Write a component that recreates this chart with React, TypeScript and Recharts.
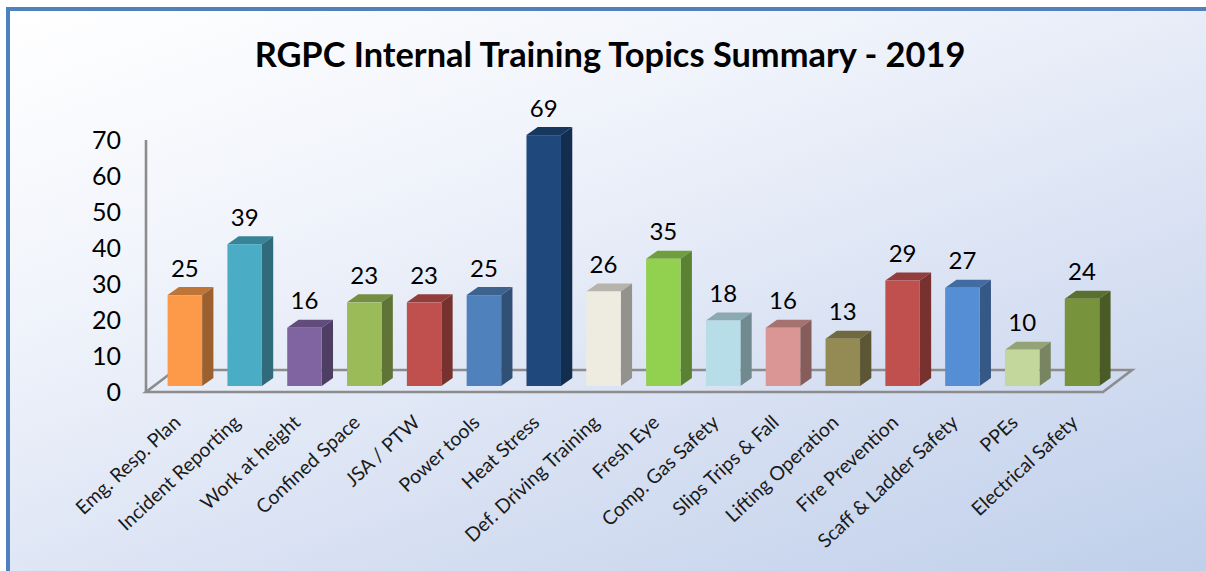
import { BarChart, Bar, XAxis, YAxis, CartesianGrid, LabelList } from "recharts";

const TOPICS = [
  "Emg. Resp. Plan",
  "Incident Reporting",
  "Work at height",
  "Confined Space",
  "JSA / PTW",
  "Power tools",
  "Heat Stress",
  "Def. Driving Training",
  "Fresh Eye",
  "Comp. Gas Safety",
  "Slips Trips & Fall",
  "Lifting Operation",
  "Fire Prevention",
  "Scaff & Ladder Safety",
  "PPEs",
  "Electrical Safety",
];
const COUNTS = [25, 39, 16, 23, 23, 25, 69, 26, 35, 18, 16, 13, 29, 27, 10, 24];
const COLORS = [
  "#FC9A4A", "#4BACC6", "#8064A2", "#9BBB59", "#C0504D", "#4F81BD", "#1F497D", "#EEECE1",
  "#92D050", "#B7DEE8", "#D99694", "#948A54", "#C0504D", "#558ED5", "#C3D69B", "#77933C",
];
const Y_TICKS = [0, 10, 20, 30, 40, 50, 60, 70];

const data = TOPICS.map((topic, i) => ({ topic, count: COUNTS[i] }));

const FONT = "Lato, Carlito, sans-serif";
const AXIS_GREY = "#8C8C8C";
// the 3d look: bars stand a bit inside the floor
const SHIFT_X = 8.6;
const SHIFT_Y = 6;
const STRETCH = 1.01;
const DEPTH_X = 11.3;
const DEPTH_Y = 8;

function shade(hex: string, k: number) {
  const n = parseInt(hex.slice(1), 16);
  const c = [(n >> 16) & 255, (n >> 8) & 255, n & 255].map((v) => Math.round(v * k));
  return `rgb(${c[0]},${c[1]},${c[2]})`;
}

function Bar3D(props: any) {
  const { x, y, width, height, index } = props;
  const color = COLORS[index];
  const left = x + SHIFT_X;
  const right = left + width;
  const bottom = y + height - SHIFT_Y;
  const top = bottom - height * STRETCH;
  return (
    <g>
      <polygon
        points={`${left},${top} ${left + DEPTH_X},${top - DEPTH_Y} ${right + DEPTH_X},${top - DEPTH_Y} ${right},${top}`}
        fill={shade(color, 0.76)}
      />
      <polygon
        points={`${right},${top} ${right + DEPTH_X},${top - DEPTH_Y} ${right + DEPTH_X},${bottom - DEPTH_Y} ${right},${bottom}`}
        fill={shade(color, 0.62)}
      />
      <rect x={left} y={top} width={width} height={bottom - top} fill={color} />
    </g>
  );
}

function ValueLabel(props: any) {
  const { x, y, width, height, value } = props;
  const top = y + height - SHIFT_Y - height * STRETCH;
  return (
    <text x={x + SHIFT_X + width / 2} y={top - 27} dy="0.36em" textAnchor="middle" fontSize={24} fontFamily={FONT} fill="#000">
      {value}
    </text>
  );
}

function TopicTick(props: any) {
  const { x, y, payload } = props;
  return (
    <text
      transform={`translate(${x + 6},${y + 24}) rotate(-43)`}
      textAnchor="end"
      fontSize={19.5}
      fontFamily={FONT}
      fill="#1a1a1a"
    >
      {payload.value}
    </text>
  );
}

function Floor(props: any) {
  const { x1, x2, y1 } = props;
  const points = `${x1},${y1} ${x2},${y1} ${x2 + 29},${y1 - 22} ${x1 + 29},${y1 - 22}`;
  return <polygon points={points} fill="none" stroke={AXIS_GREY} strokeWidth={2.6} />;
}

export default function App() {
  return (
    <div
      style={{
        position: "absolute",
        left: 0,
        top: 0,
        width: 1206,
        height: 571,
        overflow: "hidden",
        background: "#fff",
      }}
    >
      <div
        style={{
          position: "absolute",
          left: 6,
          top: 7,
          width: 1200,
          height: 570,
          boxSizing: "border-box",
          borderTop: "4px solid #4F81BD",
          borderLeft: "4px solid #4F81BD",
          background: "linear-gradient(160deg, #ffffff 0%, #f1f4fb 30%, #d3ddf1 72%, #bfcfea 100%)",
        }}
      />
      <div
        style={{
          position: "absolute",
          left: 0,
          top: 35,
          width: 1220,
          textAlign: "center",
          fontFamily: FONT,
          fontWeight: 700,
          fontSize: 34.4,
          lineHeight: "38px",
          color: "#000",
        }}
      >
        RGPC Internal Training Topics Summary - 2019
      </div>
      <div style={{ position: "absolute", left: 0, top: 0 }}>
        <BarChart
          width={1206}
          height={571}
          data={data}
          margin={{ top: 140, right: 103, bottom: 79, left: 86 }}
          style={{ overflow: "visible" }}
        >
          <CartesianGrid vertical={false} horizontal={(p: any) => (p.index === 0 ? <Floor {...p} /> : <g />)} horizontalValues={[0]} />
          <XAxis dataKey="topic" interval={0} height={100} axisLine={false} tickLine={false} tick={<TopicTick />} />
          <YAxis
            domain={[0, 70]}
            ticks={Y_TICKS}
            width={60}
            tickLine={false}
            axisLine={{ stroke: AXIS_GREY, strokeWidth: 2.6 }}
            tick={{ fontSize: 25, fontFamily: FONT, fill: "#000" }}
            tickMargin={19}
          />
          <Bar dataKey="count" barSize={34.5} shape={<Bar3D />} isAnimationActive={false}>
            <LabelList dataKey="count" content={<ValueLabel />} />
          </Bar>
        </BarChart>
      </div>
    </div>
  );
}
